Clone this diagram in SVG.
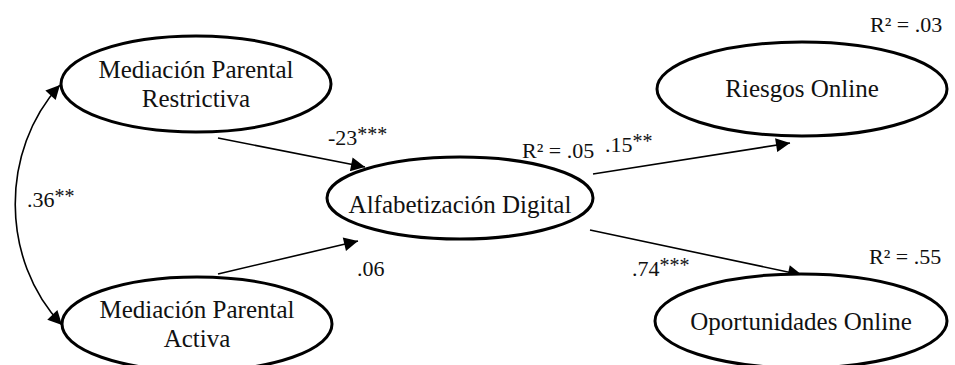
<svg xmlns="http://www.w3.org/2000/svg" width="955" height="365" viewBox="0 0 955 365">
<style>
  .node { fill: #fff; stroke: #000; stroke-width: 3; }
  .edge { fill: none; stroke: #000; stroke-width: 1.6; }
</style>
<defs>
  <marker id="arrL" viewBox="0 0 10 10" refX="10" refY="5" markerWidth="18" markerHeight="14" markerUnits="userSpaceOnUse" orient="auto-start-reverse">
    <path d="M0,0 L10,5 L0,10 Z" fill="#000"/>
  </marker>
</defs>
<rect width="955" height="365" fill="#fff"/>
<g id="connectors">
  <line class="edge" x1="218" y1="138" x2="365" y2="167" marker-end="url(#arrL)"/>
  <line class="edge" x1="218" y1="274" x2="358" y2="241" marker-end="url(#arrL)"/>
  <line class="edge" x1="593" y1="174" x2="790" y2="143" marker-end="url(#arrL)"/>
  <line class="edge" x1="590" y1="230" x2="802" y2="275" marker-end="url(#arrL)"/>
  <path class="edge" d="M60,85 C 0,150 0,260 62,325" marker-start="url(#arrL)" marker-end="url(#arrL)"/>
</g>
<g font-family="Liberation Serif, serif" font-size="25" fill="#111" text-anchor="middle">
<g id="mpr">
  <ellipse class="node" cx="196" cy="84" rx="135" ry="48"/>
  <text x="196" y="78">Mediación Parental</text>
  <text x="196" y="107">Restrictiva</text>
</g>
<g id="mpa">
  <ellipse class="node" cx="197" cy="324" rx="135" ry="47"/>
  <text x="197" y="318">Mediación Parental</text>
  <text x="197" y="347">Activa</text>
</g>
<g id="ad">
  <ellipse class="node" cx="460" cy="198" rx="133" ry="41"/>
  <text x="460" y="213">Alfabetización Digital</text>
</g>
<g id="ro">
  <ellipse class="node" cx="802" cy="89" rx="145" ry="47"/>
  <text x="802" y="97">Riesgos Online</text>
</g>
<g id="oo">
  <ellipse class="node" cx="801" cy="321" rx="146" ry="47"/>
  <text x="801" y="330">Oportunidades Online</text>
</g>
</g>
<g id="labels" font-family="Liberation Serif, serif" font-size="22" fill="#111">
  <text x="328" y="145">-23<tspan font-size="20" dy="-4">***</tspan></text>
  <text x="522" y="158">R² = .05</text>
  <text x="605" y="152">.15<tspan font-size="20" dy="-4">**</tspan></text>
  <text x="357" y="276">.06</text>
  <text x="632" y="276">.74<tspan font-size="20" dy="-4">***</tspan></text>
  <text x="869" y="264">R² = .55</text>
  <text x="870" y="32">R² = .03</text>
  <text x="27" y="207">.36<tspan font-size="20" dy="-4">**</tspan></text>
</g>
</svg>
